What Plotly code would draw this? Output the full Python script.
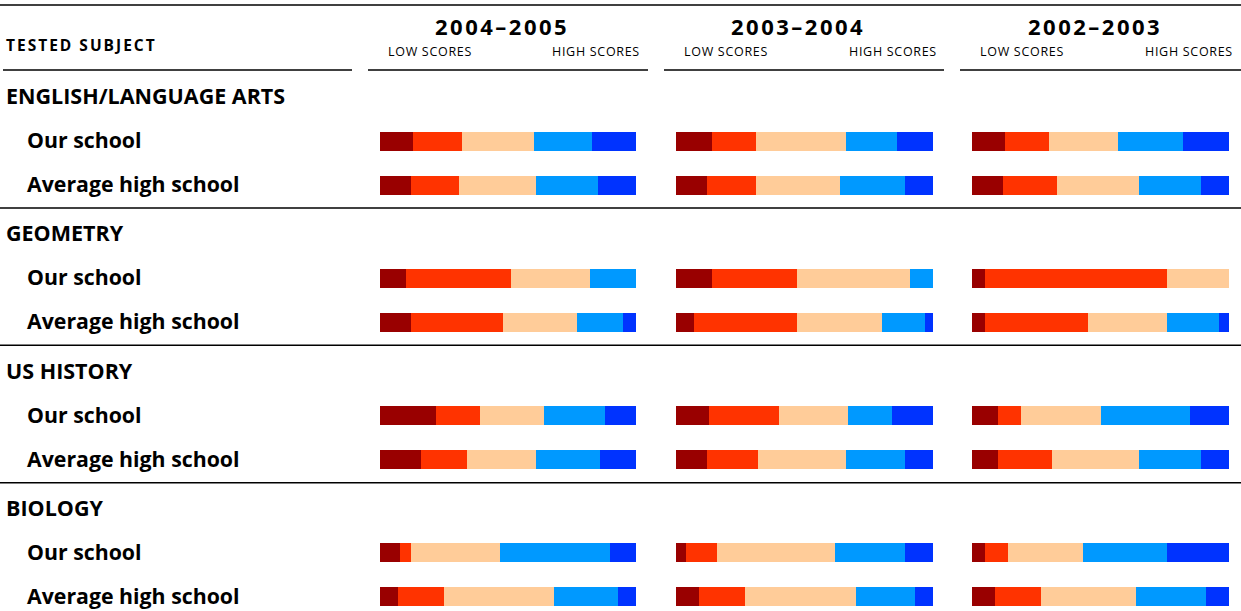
import plotly.graph_objects as go

# ---------------- data ----------------
years = ["2004–2005", "2003–2004", "2002–2003"]
subjects = ["ENGLISH/LANGUAGE ARTS", "GEOMETRY", "US HISTORY", "BIOLOGY"]
groups = ["Our school", "Average high school"]
levels = ["Far below basic", "Below basic", "Basic", "Proficient", "Advanced"]
level_colors = ["#990000", "#FF3300", "#FFCC99", "#0099FF", "#0033FF"]

# percent of students in each score band (low -> high), rows: subject x group
scores_2004_2005 = [
    [13, 19, 28, 23, 17], [12, 19, 30, 24, 15],
    [10, 41, 31, 18, 0], [12, 36, 29, 18, 5],
    [22, 17, 25, 24, 12], [16, 18, 27, 25, 14],
    [8, 4, 35, 43, 10], [7, 18, 43, 25, 7],
]
scores_2003_2004 = [
    [14, 17, 35, 20, 14], [12, 19, 33, 25, 11],
    [14, 33, 44, 9, 0], [7, 40, 33, 17, 3],
    [13, 27, 27, 17, 16], [12, 20, 34, 23, 11],
    [4, 12, 46, 27, 11], [9, 18, 43, 23, 7],
]
scores_2002_2003 = [
    [13, 17, 27, 25, 18], [12, 21, 32, 24, 11],
    [5, 71, 24, 0, 0], [5, 40, 31, 20, 4],
    [10, 9, 31, 35, 15], [10, 21, 34, 24, 11],
    [5, 9, 29, 33, 24], [9, 18, 37, 27, 9],
]
all_scores = [scores_2004_2005, scores_2003_2004, scores_2002_2003]

# ---------------- layout geometry (pixels) ----------------
W, H = 1241, 611
FONT = "Open Sans"
block_first = 97
block_pitch = 137.33
row_off = [44, 88]
bar_px = [(380, 636), (676, 933), (972, 1229)]
panel_px = [(368, 648), (664, 944), (960, 1241)]
TXT_DY = -1.5

row_y = []
for i in range(len(subjects)):
    for g in range(len(groups)):
        row_y.append(block_first + block_pitch * i + row_off[g])

fig = go.Figure()
for p, scores in enumerate(all_scores):
    xa = "x" if p == 0 else f"x{p+1}"
    for k, lvl in enumerate(levels):
        fig.add_trace(go.Bar(
            orientation="h",
            x=[row[k] for row in scores],
            y=row_y,
            width=19,
            marker=dict(color=level_colors[k], line=dict(width=0)),
            name=lvl,
            xaxis=xa,
            yaxis="y",
            showlegend=False,
            hoverinfo="skip",
        ))

layout = dict(
    width=W, height=H,
    margin=dict(l=0, r=0, t=0, b=0),
    paper_bgcolor="white", plot_bgcolor="white",
    barmode="stack", bargap=0,
    yaxis=dict(range=[H, 0], visible=False, fixedrange=True),
    font=dict(family=FONT, color="black"),
)
for p in range(3):
    key = "xaxis" if p == 0 else f"xaxis{p+1}"
    layout[key] = dict(domain=[bar_px[p][0] / W, bar_px[p][1] / W],
                       range=[0, 100], visible=False, fixedrange=True,
                       anchor="y")
fig.update_layout(**layout)

shapes = []
def hline(x0, x1, y, w=1.5):
    shapes.append(dict(type="line", xref="paper", yref="y",
                       x0=x0 / W, x1=x1 / W, y0=y, y1=y,
                       line=dict(color="black", width=w)))

hline(0, W, 5)
hline(3, 352, 70)
for a, b in panel_px:
    hline(a, b, 70)
for i in range(len(subjects) - 1):
    hline(0, W, block_first + block_pitch * i + 111)
fig.update_layout(shapes=shapes)

ann = []
def text(x, y, s, size, bold=False, anchor="left", spacing=None):
    if spacing:
        s = f'<span style="letter-spacing:{spacing}px">{s}</span>'
    if bold:
        s = f"<b>{s}</b>"
    ann.append(dict(xref="paper", yref="y", x=x / W, y=y + TXT_DY, text=s,
                    showarrow=False, xanchor=anchor, yanchor="middle",
                    font=dict(family=FONT, size=size, color="black")))

text(4, 46, "TESTED SUBJECT", 15.5, bold=True, spacing=2)
for p, yr in enumerate(years):
    a, b = panel_px[p]
    text((a + b) / 2 - 6, 27, yr, 22, bold=True, anchor="center", spacing=2.5)
    text(bar_px[p][0] + 6, 53, "LOW SCORES", 12.5, spacing=0.7)
    text(bar_px[p][1] + 6, 53, "HIGH SCORES", 12.5, anchor="right", spacing=0.7)

for i, subj in enumerate(subjects):
    top = block_first + block_pitch * i
    text(4, top, subj, 21.5, bold=True)
    for g, grp in enumerate(groups):
        text(25, top + row_off[g], grp, 21.3, bold=True)
fig.update_layout(annotations=ann)

fig.write_html("out.html", config={"displayModeBar": False},
               post_script="document.body.style.margin='0';document.body.style.overflow='hidden';")
